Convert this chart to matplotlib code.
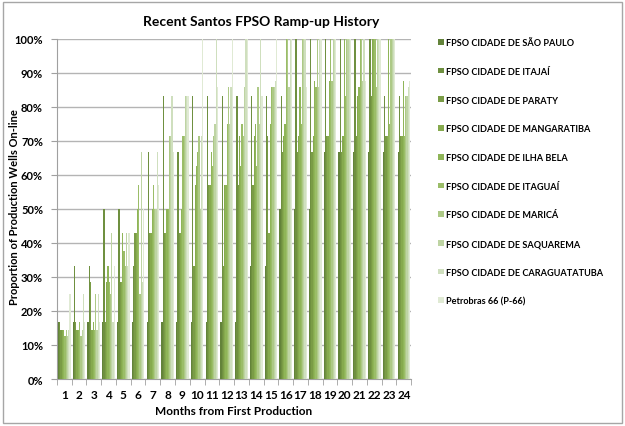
import numpy as np
import matplotlib
matplotlib.use("Agg")
import matplotlib.pyplot as plt
from matplotlib.patches import Rectangle
from matplotlib.ticker import PercentFormatter, MultipleLocator

plt.rcParams["font.family"] = ["Lato", "DejaVu Sans"]

months = list(range(1, 25))
series_names = [
    "FPSO CIDADE DE SÃO PAULO",
    "FPSO CIDADE DE ITAJAÍ",
    "FPSO CIDADE DE PARATY",
    "FPSO CIDADE DE MANGARATIBA",
    "FPSO CIDADE DE ILHA BELA",
    "FPSO CIDADE DE ITAGUAÍ",
    "FPSO CIDADE DE MARICÁ",
    "FPSO CIDADE DE SAQUAREMA",
    "FPSO CIDADE DE CARAGUATATUBA",
    "Petrobras 66 (P-66)",
]

sao_paulo = [16.7, 16.7, 16.7, 16.7, 16.7, 16.7, 16.7, 16.7, 16.7, 16.7, 16.7, 16.7,
             16.7, 33.3, 33.3, 50, 50, 50, 66.7, 66.7, 66.7, 66.7, 66.7, 66.7]
itajai = [16.7, 33.3, 33.3, 50, 50, 33.3, 66.7, 83.3, 66.7, 83.3, 83.3, 83.3,
          83.3, 83.3, 83.3, 83.3, 100, 100, 100, 100, 100, 100, 83.3, 83.3]
paraty = [14.3, 16.7, 28.6, 16.7, 28.6, 42.9, 42.9, 42.9, 42.9, 33.3, 57.1, 33.3,
          57.1, 57.1, 71.4, 66.7, 66.7, 66.7, 71.4, 66.7, 71.4, 83.3, 71.4, 71.4]
mangaratiba = [14.3, 14.3, 14.3, 28.6, 28.6, 42.9, 42.9, 42.9, 42.9, 57.1, 57.1, 57.1,
               71.4, 71.4, 42.9, 71.4, 71.4, 71.4, 71.4, 71.4, 83.3, 100, 71.4, 71.4]
ilha_bela = [14.3, 14.3, 16.7, 33.3, 42.9, 50, 50, 50, 50, 62.5, 66.7, 57.1,
             62.5, 75, 75, 75, 85.7, 87.5, 87.5, 100, 85.7, 100, 100, 87.5]
itaguai = [12.5, 16.7, 14.3, 28.6, 37.5, 57.1, 57.1, 50, 71.4, 66.7, 62.5, 75,
           75, 62.5, 85.7, 100, 75, 85.7, 100, 83.3, 100, 100, 75, 71.4]
marica = [14.3, 12.5, 25, 25, 33.3, 25, 50, 71.4, 71.4, 71.4, 71.4, 85.7,
          71.4, 85.7, 85.7, 100, 100, 100, 87.5, 100, 100, 85.7, 100, 83.3]
saquarema = [12.5, 14.3, 14.3, 42.9, 42.9, 66.7, 50, 71.4, 83.3, 50, 75, 75,
             85.7, 75, 85.7, 85.7, 100, 85.7, 100, 100, 87.5, 100, 100, 83.3]
caraguatatuba = [14.3, 25, 25, 16.7, 33.3, 28.6, 66.7, 83.3, 83.3, 71.4, 100, 85.7,
                 100, 100, 87.5, 100, 100, 100, 100, 100, 100, 100, 100, 85.7]
p66 = [25, 16.7, 16.7, 33.3, 42.9, 50, 57.1, 66.7, 83.3, 100, 85.7, 100,
       100, 83.3, 100, 100, 85.7, 100, 100, 100, 87.5, 100, 100, 87.5]

series_values = [sao_paulo, itajai, paraty, mangaratiba, ilha_bela,
                 itaguai, marica, saquarema, caraguatatuba, p66]
colors = ["#63833a", "#6f9040", "#7a9c46", "#86aa4e", "#8fb558",
          "#9bbd68", "#adc986", "#bed4a3", "#cfdfbe", "#e0ead4"]

fig = plt.figure(figsize=(6.25, 4.27), dpi=100)
ax = fig.add_axes([0.091, 0.110, 0.567, 0.797])

x = np.array(months, dtype=float)
group_w = 0.86
bar_w = group_w / len(series_values)
for i, (name, vals, col) in enumerate(zip(series_names, series_values, colors)):
    offs = -group_w / 2 + bar_w * (i + 0.5)
    ax.bar(x + offs, np.array(vals) / 100.0, width=bar_w, color=col,
           linewidth=0, label=name, zorder=3)

ax.set_xlim(0.5, 24.5)
ax.set_ylim(0, 1.0)
ax.yaxis.set_major_locator(MultipleLocator(0.1))
ax.yaxis.set_major_formatter(PercentFormatter(1.0, decimals=0))
ax.set_xticks(months)
ax.set_xticks(np.arange(0.5, 25, 1.0), minor=True)
ax.tick_params(axis="x", which="major", length=0, pad=7, labelsize=8.5)
ax.tick_params(axis="x", which="minor", length=4, color="#a0a0a0", direction="out")
ax.tick_params(axis="y", length=4, color="#a0a0a0", labelsize=8, pad=6)
for lab in ax.get_xticklabels() + ax.get_yticklabels():
    lab.set_fontweight("bold")

ax.grid(axis="y", color="#b4b4b4", linewidth=1.0, zorder=0)
ax.set_axisbelow(True)
for side in ["top", "right"]:
    ax.spines[side].set_visible(False)
for side in ["left", "bottom"]:
    ax.spines[side].set_color("#a0a0a0")

ax.set_xlabel("Months from First Production", fontsize=8.5, fontweight="bold", labelpad=4)
fig.text(0.024, 0.515, "Proportion of Production Wells On-line", rotation=90,
         ha="center", va="center", fontsize=8, fontweight="bold")
fig.text(0.418, 0.948, "Recent Santos FPSO Ramp-up History", ha="center", va="center",
         fontsize=10, fontweight="bold")

handles, labels = ax.get_legend_handles_labels()
leg = fig.legend(handles, labels, loc="upper left", bbox_to_anchor=(0.695, 0.917),
                 frameon=False, fontsize=6.6, handlelength=0.6, handleheight=0.6,
                 handletextpad=0.3, labelspacing=2.15, borderaxespad=0)
for t in leg.get_texts():
    t.set_fontweight("bold")

fig.patches.append(Rectangle((0.004, 0.008), 0.991, 0.985, transform=fig.transFigure,
                             fill=False, edgecolor="#a6a6a6", linewidth=1.0))

fig.savefig("out.png", dpi=100)
